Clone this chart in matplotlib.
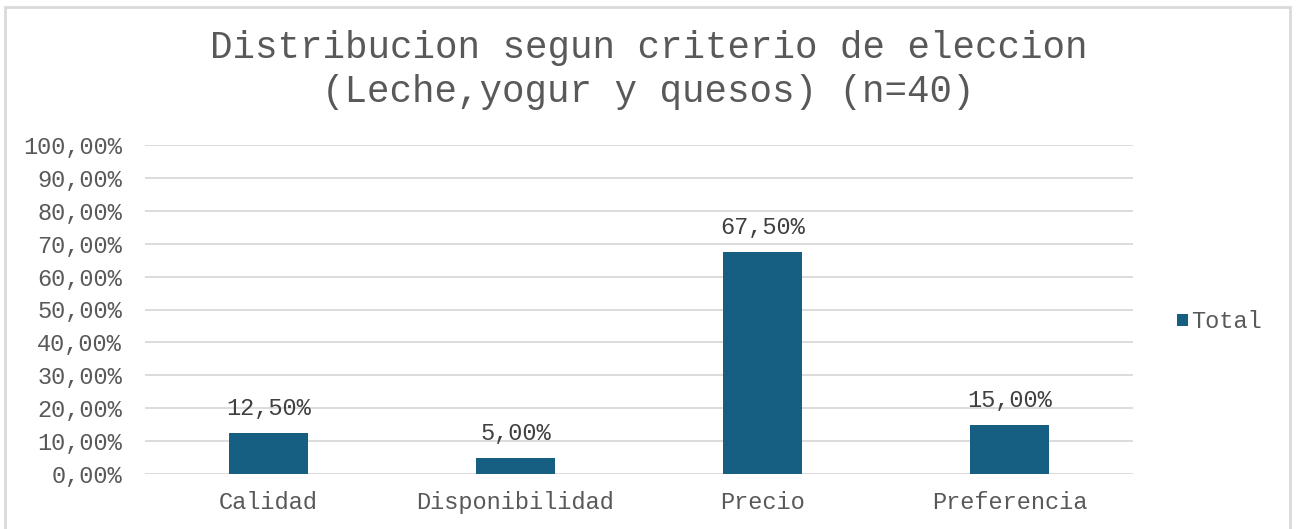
import matplotlib.pyplot as plt
from matplotlib.patches import Rectangle

categorias = ["Calidad", "Disponibilidad", "Precio", "Preferencia"]
valores = [0.125, 0.05, 0.675, 0.15]
serie = "Total"
titulo = "Distribucion segun criterio de eleccion\n(Leche,yogur y quesos) (n=40)"

fuente = "Liberation Mono"
gris_texto = "#595959"
azul = "#175f82"

fig = plt.figure(figsize=(12.97, 5.29), dpi=100)
ax = fig.add_axes([145 / 1297, 1 - 474 / 529, 988 / 1297, 329 / 529])

x = range(len(categorias))
barras = ax.bar(x, valores, width=0.316, color=azul, label=serie, zorder=3)

ax.set_xlim(-0.5, len(categorias) - 0.5)
ax.set_ylim(0, 1)
ax.set_yticks([i / 10 for i in range(11)])
ax.set_yticklabels([f"{i * 10},00%" for i in range(11)])
ax.set_xticks(list(x))
ax.set_xticklabels(categorias)
ax.grid(axis="y", color="#d9d9d9", linewidth=1.3, zorder=0)
for s in ax.spines.values():
    s.set_visible(False)
ax.tick_params(length=0, labelsize=17, labelcolor=gris_texto)
ax.tick_params(axis="y", pad=16.5)
ax.tick_params(axis="x", pad=12)
for lab in ax.get_xticklabels() + ax.get_yticklabels():
    lab.set_fontfamily(fuente)

for b, v in zip(barras, valores):
    ax.annotate(f"{v * 100:.2f}".replace(".", ",") + "%",
                (b.get_x() + b.get_width() / 2, v), xytext=(0, 9),
                textcoords="offset points", ha="center", va="bottom",
                fontsize=17, color="#404040", family=fuente)

fig.text(0.5, 1 - 70 / 529, titulo, ha="center", va="center", fontsize=27,
         color=gris_texto, family=fuente, linespacing=1.3)

fig.legend(loc="center left", bbox_to_anchor=(1156 / 1297, 1 - 322 / 529),
           frameon=False, handlelength=0.45, handleheight=0.45, handletextpad=0.15,
           prop={"family": fuente, "size": 17}, labelcolor=gris_texto)

fig.patches.append(Rectangle((5 / 1297, -0.01), 1285 / 1297, 1 - 7 / 529 + 0.01,
                             transform=fig.transFigure, fill=False,
                             edgecolor="#d9d9d9", linewidth=2))

fig.savefig("out.png", dpi=100, facecolor="white")
